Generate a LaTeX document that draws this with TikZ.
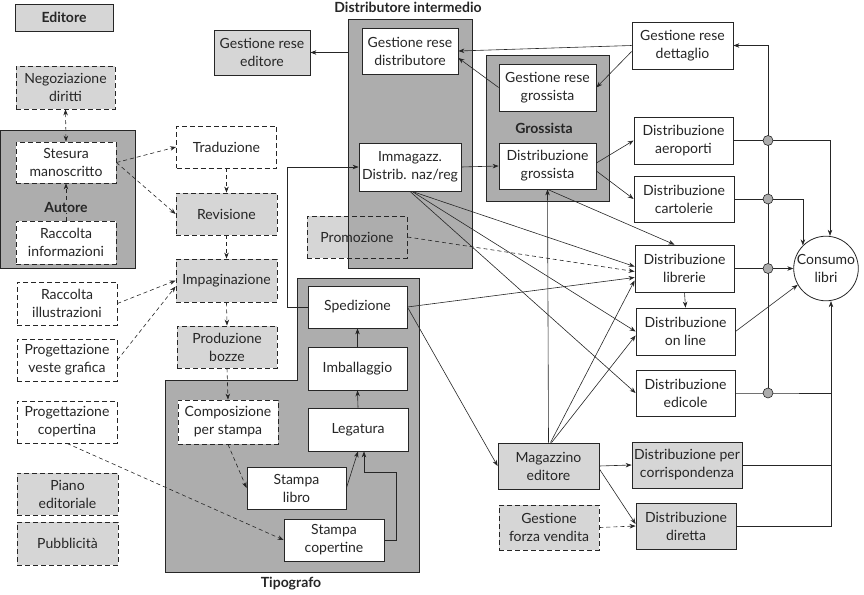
\documentclass[tikz,border=0pt]{standalone}
\usepackage{fontspec}
\setmainfont{Lato}
\usetikzlibrary{arrows.meta,backgrounds,calc}
\definecolor{boxgray}{HTML}{D6D6D6}
\definecolor{grpgray}{HTML}{ADADAD}
\definecolor{ink}{HTML}{262626}
\begin{document}
\begin{tikzpicture}[x=1pt,y=-1pt,
  font=\fontsize{14}{18}\selectfont,
  sz/.style 2 args={minimum width=#1pt, minimum height=#2pt},
  base/.style={draw=ink, line width=0.8pt, align=center, inner sep=1pt, text=ink},
  wbox/.style={base, fill=white},
  gbox/.style={base, fill=boxgray},
  dwbox/.style={wbox, dash pattern=on 5pt off 3pt},
  dgbox/.style={gbox, dash pattern=on 5pt off 3pt},
  grp/.style={draw=ink, line width=0.8pt, fill=grpgray},
  ttl/.style={font=\fontsize{14}{16}\selectfont\bfseries, text=ink},
  arr/.style={draw=ink, line width=0.6pt, -{Stealth[length=6pt,width=4.5pt]}},
  darr/.style={arr, dash pattern=on 4pt off 3pt},
  ln/.style={draw=ink, line width=0.6pt},
  jn/.style={circle, draw=ink, fill=grpgray, minimum size=10pt, inner sep=0pt, line width=0.6pt},
]
\useasboundingbox (0,0) rectangle (864,594);

% ---------- groups ----------
\node[grp, sz={135}{138}, inner sep=0pt] (autgrp) at (67.5,199) {};
\node[grp, sz={124}{249}, inner sep=0pt] (distbox) at (410,143.5) {};
\node[grp, sz={123}{146}, inner sep=0pt] (grobox) at (547.5,128) {};
\draw[grp] (165,380) -- (297,380) -- (297,278) -- (419,278) -- (419,572) -- (165,572) -- cycle;

% ---------- titles ----------
\node[ttl] (tdist) at (408,7) {Distributore intermedio};
\node[ttl] (ttip) at (291,584) {Tipografo};
\node[ttl] (tgro) at (544,128) {Grossista};

% ---------- left column ----------
\node[gbox, sz={98}{27}, font=\fontsize{14}{16}\selectfont\bfseries] (edit) at (64,17.5) {Editore};
\node[dgbox, sz={99}{43}] (neg) at (65.5,87.5) {Negoziazione\\diritti};
\node[dwbox, sz={100}{41}] (stes) at (66,162.5) {Stesura\\manoscritto};
\node[dwbox, sz={100}{43}] (racinf) at (66,242.5) {Raccolta\\informazioni};
\node[dwbox, sz={100}{43}] (racill) at (67,303.5) {Raccolta\\illustrazioni};
\node[dwbox, sz={100}{42}] (veste) at (67,360) {Progettazione\\veste grafica};
\node[dwbox, sz={100}{42}] (cop) at (67,422) {Progettazione\\copertina};
\node[dgbox, sz={101}{42}] (piano) at (67.5,494) {Piano\\editoriale};
\node[dgbox, sz={101}{43}] (pubb) at (67.5,543.5) {Pubblicità};

% ---------- middle column ----------
\node[dwbox, sz={100}{42}] (trad) at (226.5,147) {Traduzione};
\node[dgbox, sz={101}{42}] (rev) at (226.5,214) {Revisione};
\node[dgbox, sz={101}{43}] (imp) at (226.5,280.5) {Impaginazione};
\node[dgbox, sz={100}{42}] (bozze) at (227,347) {Produzione\\bozze};
\node[dwbox, sz={100}{44}] (comp) at (228,422) {Composizione\\per stampa};
\node[wbox, sz={99}{42}] (slib) at (296.5,488) {Stampa\\libro};
\node[wbox, sz={100}{42}] (scop) at (334,540) {Stampa\\copertine};
\node[wbox, sz={99}{42}] (sped) at (357.5,307) {Spedizione};
\node[wbox, sz={99}{43}] (imb) at (357.5,368.5) {Imballaggio};
\node[wbox, sz={100}{43}] (leg) at (358,429.5) {Legatura};

% ---------- distributore ----------
\node[gbox, sz={96}{45}] (gred) at (262,52.5) {Gestione rese\\editore};
\node[wbox, sz={96}{46}] (gdist) at (410,51) {Gestione rese\\distributore};
\node[wbox, sz={102}{48}] (imm) at (410,167) {Immagazz.\\Distrib. naz/reg};
\node[dgbox, fill=none, sz={100}{42}] (prom) at (357,237) {Promozione};
\begin{scope}[on background layer]
  \fill[boxgray] (prom.north west) rectangle (prom.south east);
\end{scope}

% ---------- grossista ----------
\node[wbox, sz={97}{47}] (ggro) at (547.5,87.5) {Gestione rese\\grossista};
\node[wbox, sz={97}{46}] (dgro) at (547.5,166) {Distribuzione\\grossista};

% ---------- right column ----------
\node[wbox, sz={101}{47}] (gdett) at (682.5,45.5) {Gestione rese\\dettaglio};
\node[wbox, sz={99}{47}] (aer) at (683.5,140.5) {Distribuzione\\aeroporti};
\node[wbox, sz={100}{46}] (cart) at (684,199) {Distribuzione\\cartolerie};
\node[wbox, sz={99}{47}] (lib) at (684.5,268.5) {Distribuzione\\librerie};
\node[wbox, sz={99}{47}] (onl) at (685.5,331.5) {Distribuzione\\on line};
\node[wbox, sz={99}{46}] (edi) at (685.5,393) {Distribuzione\\edicole};
\node[gbox, sz={110}{46}] (corr) at (687,465) {Distribuzione per\\corrispondenza};
\node[gbox, sz={100}{46}] (dir) at (686,526) {Distribuzione\\diretta};
\node[gbox, sz={101}{46}] (mag) at (548.5,466) {Magazzino\\editore};
\node[dgbox, sz={100}{45}] (forza) at (549,527.5) {Gestione\\forza vendita};
\node[circle, draw=ink, line width=0.8pt, fill=white, minimum size=62pt, inner sep=0pt, align=center, text=ink] (cons) at (826,268.5) {Consumo\\libri};

\coordinate (c1) at (768,140.5);
\coordinate (c2) at (768,199);
\coordinate (c3) at (768,268.5);
\coordinate (c4) at (768,393);
\coordinate (cx) at ($(cons.south)+(5,0)$);

% ---------- left edges ----------
\draw[darr, {Stealth[length=6pt,width=4.5pt]}-{Stealth[length=6pt,width=4.5pt]}] (neg.south) -- (stes.north);
\draw[darr] (racinf.north) -- (stes.south);
\node[ttl, fill=grpgray, inner sep=1pt] (taut) at (66,207) {Autore};
\draw[darr] (stes.east) -- (trad.west);
\draw[darr] (stes.east) -- (rev.west);
\draw[darr] (trad.south) -- (rev.north);
\draw[darr] (rev.south) -- (imp.north);
\draw[darr] (imp.south) -- (bozze.north);
\draw[darr] (bozze.south) -- (comp.north);
\draw[darr] (racill.east) -- (imp.west);
\draw[darr] (veste.east) -- ([yshift=-6pt]imp.west);
\draw[darr] (cop.south) -- (scop.west);
\draw[darr] (comp.south) -- (slib.west);

% ---------- tipografo edges ----------
\draw[arr] (slib.east) -- (leg.south);
\draw[arr] (scop.east) -- ++(12,0) |- ($(leg.south)+(6,21)$) -- ([xshift=6pt]leg.south);
\draw[arr] (leg.north) -- (imb.south);
\draw[arr] (imb.north) -- (sped.south);
\draw[arr] (sped.west) -- ++(-20,0) |- (imm.west);
\draw[arr] (sped.east) -- ([yshift=-9pt]lib.west);
\draw[arr] (sped.east) -- (mag.west);

% ---------- distributore / grossista edges ----------
\draw[arr] (distbox.west |- gred.east) -- (gred.east);
\draw[arr] (imm.east) -- (dgro.west);
\draw[arr] (gdett.west) -- (gdist.east);
\draw[arr] ([yshift=-6pt]gdett.west) -- (ggro.east);
\draw[arr] (ggro.west) -- ([yshift=-7pt]gdist.east);
\draw[arr] ([yshift=3pt]dgro.east) -- (aer.west);
\draw[arr] ([yshift=-5pt]dgro.east) -- (cart.west);
\draw[arr] (dgro.south) -- ([xshift=-10pt]lib.north);
\draw[arr] (mag.north) -- (dgro.south);
\draw[arr] ([xshift=2pt]imm.south) -- ([yshift=2pt]lib.west);
\draw[arr] ([xshift=2pt]imm.south) -- (onl.west);
\draw[arr] (imm.south) -- (edi.west);
\draw[darr] (prom.east) -- ([yshift=-3pt]lib.west);
\draw[arr] ([xshift=2pt]mag.north) -- ([yshift=-12pt]lib.west);
\draw[arr] ([xshift=3pt]mag.north) -- ([yshift=-4pt]onl.west);
\draw[arr] (mag.east) -- (corr.west);
\draw[arr] ([yshift=-3pt]mag.east) -- ([yshift=2pt]dir.west);
\draw[darr] (forza.east) -- (dir.west);
\draw[arr] (lib.south) -- (onl.north);

% ---------- to consumo ----------
\draw[ln] (aer.east) -- (c1);
\draw[arr] (c1) -| ([xshift=4pt]cons.north);
\draw[ln] (cart.east) -- (c2);
\draw[arr] (c2) -| (cons.north west);
\draw[ln] (lib.east) -- (c3);
\draw[arr] (c3) -- (cons.west);
\draw[arr] (onl.east) -- (cons.210);
\draw[ln] (edi.east) -- (c4) -- (c4 -| cx);
\draw[ln] (corr.east) -- (corr.east -| cx);
\draw[arr] (dir.east) -| (cx);
\draw[arr] (c4) |- (gdett.east);

\node[jn] (j1) at (c1) {};
\node[jn] (j2) at (c2) {};
\node[jn] (j3) at (c3) {};
\node[jn] (j4) at (c4) {};
\end{tikzpicture}
\end{document}
